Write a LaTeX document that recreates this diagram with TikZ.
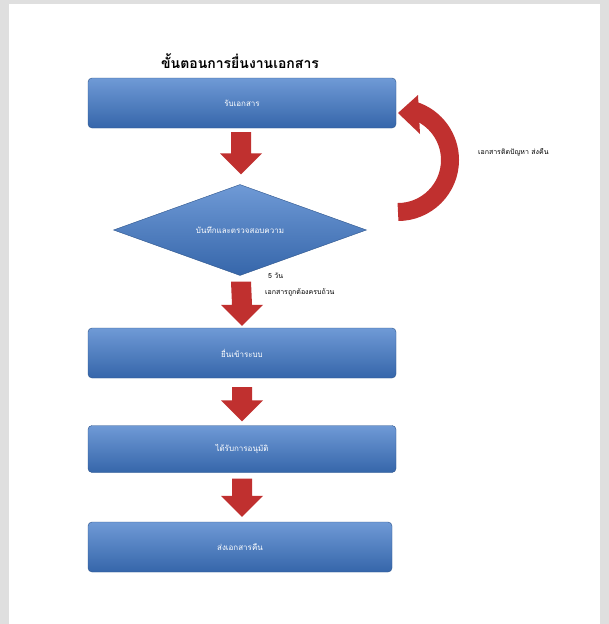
\documentclass[tikz,border=0pt]{standalone}
\usepackage{fontspec}
\newfontfamily\thaifont[Script=Thai]{Loma}
\usetikzlibrary{shapes.geometric}
\definecolor{boxblue}{HTML}{3F78C8}
\definecolor{arrowred}{HTML}{C0302F}
\tikzstyle{stepbox} = [rectangle, rounded corners=4pt, minimum width=308pt, minimum height=50pt, text centered, draw=boxblue!70!black, top color=boxblue!75!white, bottom color=boxblue!85!black, text=white, font=\thaifont\fontsize{8}{9}\selectfont]
\tikzstyle{checkbox} = [diamond, aspect=2.8, minimum width=253pt, minimum height=91pt, inner sep=0, draw=boxblue!70!black, top color=boxblue!75!white, bottom color=boxblue!85!black, text=white, font=\thaifont\fontsize{8}{9}\selectfont]
\tikzstyle{note} = [font=\thaifont\fontsize{7}{8}\selectfont, anchor=west, inner sep=0]
\newcommand{\blockarrow}[2]{% top centre, bottom tip
  \fill[arrowred] ($(#1)+(-10,0)$) -- ($(#1)+(10,0)$) -- ($(#2)+(10,-21)$) -- ($(#2)+(21,-21)$) -- (#2) -- ($(#2)+(-21,-21)$) -- ($(#2)+(-10,-21)$) -- cycle;}
\usetikzlibrary{calc}
\begin{document}
\begin{tikzpicture}[x=1pt,y=-1pt]
\fill[gray!25] (0,0) rectangle (609,624);
\fill[white] (9,4) rectangle (600,624);
\useasboundingbox (0,0) rectangle (609,624);

\node[font=\thaifont\bfseries\fontsize{14}{16}\selectfont] (title) at (240,61) {ขั้นตอนการยื่นงานเอกสาร};
\node[stepbox] (receive) at (242,103) {รับเอกสาร};
\node[checkbox] (check) at (240,230) {บันทึกและตรวจสอบความ};
\node[stepbox] (submit) at (242,353) {ยื่นเข้าระบบ};
\node[stepbox, minimum height=47pt] (approve) at (242,449) {ได้รับการอนุมัติ};
\node[stepbox, minimum width=304pt] (return) at (240,547) {ส่งเอกสารคืน};

\coordinate (a1) at ($(receive.south)+(-1,4)$);
\coordinate (b1) at ($(check.north)+(1,-10)$);
\blockarrow{a1}{b1}
\coordinate (a2) at ($(check.south)+(1,6)$);
\coordinate (b2) at ($(submit.north)+(0,-2)$);
\blockarrow{a2}{b2}
\coordinate (a3) at ($(submit.south)+(0,9)$);
\coordinate (b3) at ($(approve.north)+(0,-4)$);
\blockarrow{a3}{b3}
\coordinate (a4) at ($(approve.south)+(0,6)$);
\coordinate (b4) at ($(return.north)+(2,-5)$);
\blockarrow{a4}{b4}

% loop back to the start
\draw[arrowred, line width=18pt] (398,212) arc[start angle=90, end angle=-72, radius=52];
\fill[arrowred] (398,113) -- (418,95) -- (420,134) -- cycle;

\node[note] (fail) at (478,152) {เอกสารติดปัญหา  ส่งคืน};
\node[note] (days) at (268,276) {5 วัน};
\node[note] (ok) at (265,292) {เอกสารถูกต้องครบถ้วน};
\end{tikzpicture}
\end{document}
